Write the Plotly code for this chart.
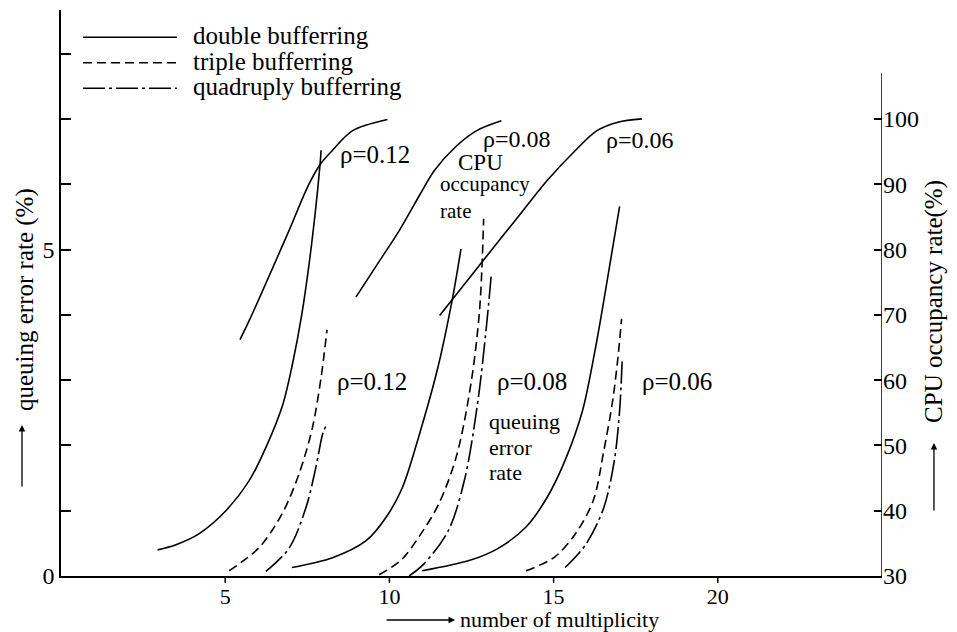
import plotly.graph_objects as go

FONT = "Liberation Serif, Times New Roman, serif"

# ---- data (x = number of multiplicity) ----
# CPU occupancy rate (%), right axis
cpu_012_x = [5.45, 5.73, 6.9, 7.55, 7.9, 8.27, 8.88, 9.94]
cpu_012_y = [66.2, 69.1, 82.4, 90.0, 93.1, 95.2, 98.2, 99.9]
cpu_008_x = [8.98, 9.6, 10.3, 10.94, 11.37, 12.01, 12.66, 13.41]
cpu_008_y = [72.7, 77.5, 82.9, 88.5, 92.1, 95.7, 98.2, 99.7]
cpu_006_x = [11.53, 12.87, 14.06, 14.81, 15.67, 16.32, 16.96, 17.69]
cpu_006_y = [69.9, 78.4, 85.9, 90.6, 95.2, 98.2, 99.5, 100.0]

# queuing error rate (%), left axis
dbl_012_x = [2.94, 3.5, 4.21, 5.02, 5.73, 6.24, 6.75, 7.05, 7.33, 7.56, 7.76, 7.89, 7.92]
dbl_012_y = [0.40, 0.48, 0.65, 1.00, 1.46, 1.97, 2.62, 3.25, 4.00, 4.80, 5.65, 6.31, 6.52]
tri_012_x = [5.12, 6.04, 6.75, 7.26, 7.66, 7.92, 8.10]
tri_012_y = [0.08, 0.44, 0.97, 1.58, 2.28, 3.04, 3.77]
qua_012_x = [6.24, 6.95, 7.46, 7.76, 7.97, 8.10]
qua_012_y = [0.07, 0.43, 1.05, 1.66, 2.18, 2.33]

dbl_008_x = [7.03, 8.27, 9.29, 9.90, 10.40, 10.92, 11.48, 11.91, 12.18]
dbl_008_y = [0.13, 0.28, 0.54, 0.90, 1.36, 2.18, 3.20, 4.22, 5.01]
tri_008_x = [9.69, 10.35, 10.90, 11.50, 12.05, 12.50, 12.75, 12.87]
tri_008_y = [0.02, 0.24, 0.60, 1.10, 1.85, 3.00, 4.10, 5.47]
qua_008_x = [10.60, 11.06, 11.80, 12.30, 12.70, 12.95, 13.10]
qua_008_y = [0.00, 0.19, 0.70, 1.50, 2.70, 3.80, 4.60]

dbl_006_x = [11.00, 12.45, 13.30, 14.16, 14.81, 15.35, 15.88, 16.26, 16.53, 17.01]
dbl_006_y = [0.08, 0.24, 0.42, 0.75, 1.21, 1.77, 2.53, 3.45, 4.22, 5.66]
tri_006_x = [14.16, 15.03, 15.67, 16.21, 16.53, 16.80, 16.96, 17.07]
tri_006_y = [0.08, 0.29, 0.65, 1.16, 1.92, 2.69, 3.35, 3.94]
qua_006_x = [15.35, 15.99, 16.53, 16.85, 17.01, 17.09]
qua_006_y = [0.13, 0.49, 1.05, 1.77, 2.53, 3.33]

left_ticks = [0, 1, 2, 3, 4, 5, 6, 7, 8]
left_ticktext = ["0", "", "", "", "", "5", "", "", ""]
right_ticks = [30, 40, 50, 60, 70, 80, 90, 100]
x_ticks = [5, 10, 15, 20]

legend_labels = ["double bufferring", "triple bufferring", "quadruply bufferring"]

SOLID = "solid"
DASH = "9px,5px"
DASHDOT = "22px,4px,3px,4px"

fig = go.Figure()


def add(x, y, dash, yaxis="y"):
    fig.add_trace(go.Scatter(
        x=x, y=y, mode="lines", yaxis=yaxis, showlegend=False, hoverinfo="skip",
        line=dict(color="black", width=1.6, dash=dash, shape="spline", smoothing=0.9)))


for cx, cy in [(cpu_012_x, cpu_012_y), (cpu_008_x, cpu_008_y), (cpu_006_x, cpu_006_y)]:
    add(cx, cy, SOLID, "y2")
for (xx, yy, d) in [(dbl_012_x, dbl_012_y, SOLID), (tri_012_x, tri_012_y, DASH), (qua_012_x, qua_012_y, DASHDOT),
                    (dbl_008_x, dbl_008_y, SOLID), (tri_008_x, tri_008_y, DASH), (qua_008_x, qua_008_y, DASHDOT),
                    (dbl_006_x, dbl_006_y, SOLID), (tri_006_x, tri_006_y, DASH), (qua_006_x, qua_006_y, DASHDOT)]:
    add(xx, yy, d)

tf = dict(family=FONT, size=24, color="black")
shapes = []
annotations = []

# right axis line (shorter than the left one)
shapes.append(dict(type="line", xref="x", yref="y", x0=25, x1=25, y0=0, y1=7.7,
                   line=dict(color="black", width=1.5)))

# downward x tick marks (labels come from the axis itself)
for t in x_ticks:
    shapes.append(dict(type="line", xref="x", yref="paper", x0=t, x1=t, y0=0, y1=-7 / 566,
                       line=dict(color="black", width=1.5)))

# legend
leg_y = [8.25, 7.86, 7.47]
for lab, yy, d in zip(legend_labels, leg_y, [SOLID, DASH, DASHDOT]):
    shapes.append(dict(type="line", xref="x", yref="y", x0=0.67, x1=3.53, y0=yy, y1=yy,
                       line=dict(color="black", width=1.6, dash=d)))
    annotations.append(dict(x=3.95, y=yy + 0.02, xref="x", yref="y", text=lab, showarrow=False,
                            xanchor="left", yanchor="middle",
                            font=dict(family=FONT, size=25, color="black")))


def label(x, y, t, xanchor="center", size=25, align="center"):
    annotations.append(dict(x=x, y=y, xref="x", yref="y", text=t, showarrow=False,
                            xanchor=xanchor, yanchor="middle", align=align,
                            font=dict(family=FONT, size=size, color="black")))


label(9.56, 6.45, "ρ=0.12")
label(13.89, 6.69, "ρ=0.08", size=24)
label(17.63, 6.67, "ρ=0.06", size=24)
label(12.76, 6.33, "CPU", size=23)
label(11.48, 5.80, "occupancy<br>rate", "left", 21, "left")
label(9.47, 2.98, "ρ=0.12")
label(14.34, 2.98, "ρ=0.08")
label(18.76, 2.98, "ρ=0.06")
label(12.97, 2.36, "queuing", "left", 22)
label(12.97, 1.97, "error", "left", 22)
label(12.97, 1.58, "rate", "left", 22)

# axis titles with arrows (paper coordinates, outside the plotting area)
annotations.append(dict(x=0.480, y=-0.0777, xref="paper", yref="paper", ax=-70, ay=0, text="",
                        showarrow=True, arrowhead=2, arrowsize=1, arrowwidth=1.3, arrowcolor="black"))
annotations.append(dict(x=0.4836, y=-0.0760, xref="paper", yref="paper", text="number of multiplicity",
                        showarrow=False, xanchor="left", yanchor="middle",
                        font=dict(family=FONT, size=22, color="black")))
annotations.append(dict(x=-0.0475, y=0.2668, xref="paper", yref="paper", ax=0, ay=63, text="",
                        showarrow=True, arrowhead=2, arrowsize=1, arrowwidth=1.3, arrowcolor="black"))
annotations.append(dict(x=-0.0438, y=0.4876, xref="paper", yref="paper", text="queuing error rate (%)",
                        textangle=-90, showarrow=False, xanchor="center", yanchor="middle",
                        font=dict(family=FONT, size=25, color="black")))
annotations.append(dict(x=1.0633, y=0.235, xref="paper", yref="paper", ax=0, ay=69, text="",
                        showarrow=True, arrowhead=2, arrowsize=1, arrowwidth=1.3, arrowcolor="black"))
annotations.append(dict(x=1.0633, y=0.4859, xref="paper", yref="paper", text="CPU occupancy rate(%)",
                        textangle=-90, showarrow=False, xanchor="center", yanchor="middle",
                        font=dict(family=FONT, size=25, color="black")))

fig.update_layout(
    width=957, height=632,
    margin=dict(l=61, r=75, t=10, b=56),
    paper_bgcolor="white", plot_bgcolor="white",
    showlegend=False,
    xaxis=dict(range=[0, 25], showline=True, linecolor="black", linewidth=1.5,
               ticks="", tickvals=x_ticks, showgrid=False, zeroline=False,
               tickfont=dict(family=FONT, size=22, color="black")),
    yaxis=dict(range=[0, 566 / 65.3], showline=True, linecolor="black", linewidth=1.5,
               ticks="inside", ticklen=10, tickwidth=1.5, tickcolor="black",
               tickvals=left_ticks, ticktext=left_ticktext, showgrid=False, zeroline=False,
               tickfont=tf),
    yaxis2=dict(range=[30, 30 + 10 * 566 / 65.3], overlaying="y", side="right", showline=False,
                ticks="inside", ticklen=8, tickwidth=1.5, tickcolor="black",
                tickvals=right_ticks, showgrid=False, zeroline=False, tickfont=tf),
    shapes=shapes,
    annotations=annotations,
)

# the page's default 8px body margin would shift the whole figure; remove it
fig.write_html("out.html", config={"displayModeBar": False},
               post_script="document.body.style.margin='0px';")
